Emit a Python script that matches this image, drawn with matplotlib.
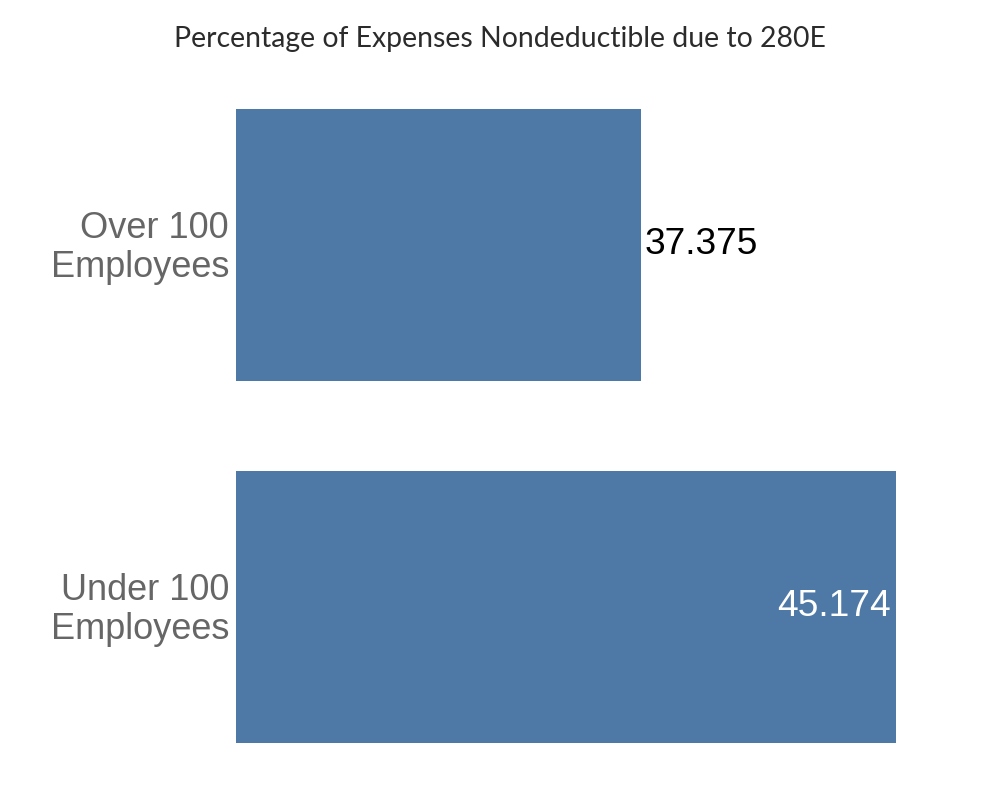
import matplotlib
matplotlib.use('Agg')
import matplotlib.pyplot as plt
import matplotlib.transforms as mtransforms

# --- data ---
categories = ['Over 100\nEmployees', 'Under 100\nEmployees']
values = [37.375, 45.174]

BAR_COLOR = '#4e79a7'
AXIS_START = 25

fig = plt.figure(figsize=(10, 8), dpi=100)
ax = fig.add_axes([0.236, 0.015, 0.724, 0.905])

y_pos = list(range(len(categories)))
ax.barh(y_pos, values, height=0.75, left=0, color=BAR_COLOR)
ax.set_xlim(AXIS_START, 47.12)
ax.set_ylim(1.5, -0.5)

ax.set_yticks(y_pos)
ax.set_yticklabels(categories, fontsize=26, color='#666666',
                   family='Liberation Sans', linespacing=1.15)
ax.tick_params(axis='y', length=0, pad=5)
# nudge the category labels up a little
shift = mtransforms.ScaledTranslation(0, 3 / 100, fig.dpi_scale_trans)
for lbl in ax.get_yticklabels():
    lbl.set_transform(lbl.get_transform() + shift)
ax.set_xticks([])
for s in ax.spines.values():
    s.set_visible(False)

# value labels: outside if room, otherwise inside the bar end
for y, v in zip(y_pos, values):
    if v > 44:
        ax.text(v - 0.18, y, f'{v:.3f}', ha='right', va='center',
                fontsize=26.7, color='white', family='Liberation Sans')
    else:
        ax.text(v + 0.12, y, f'{v:.3f}', ha='left', va='center',
                fontsize=26.7, color='black', family='Liberation Sans')

fig.text(0.5, 1 - 39 / 800, 'Percentage of Expenses Nondeductible due to 280E',
         ha='center', va='center', fontsize=20.4, color='#2b2b2b', family='Lato')

fig.savefig('out.png', dpi=100)
